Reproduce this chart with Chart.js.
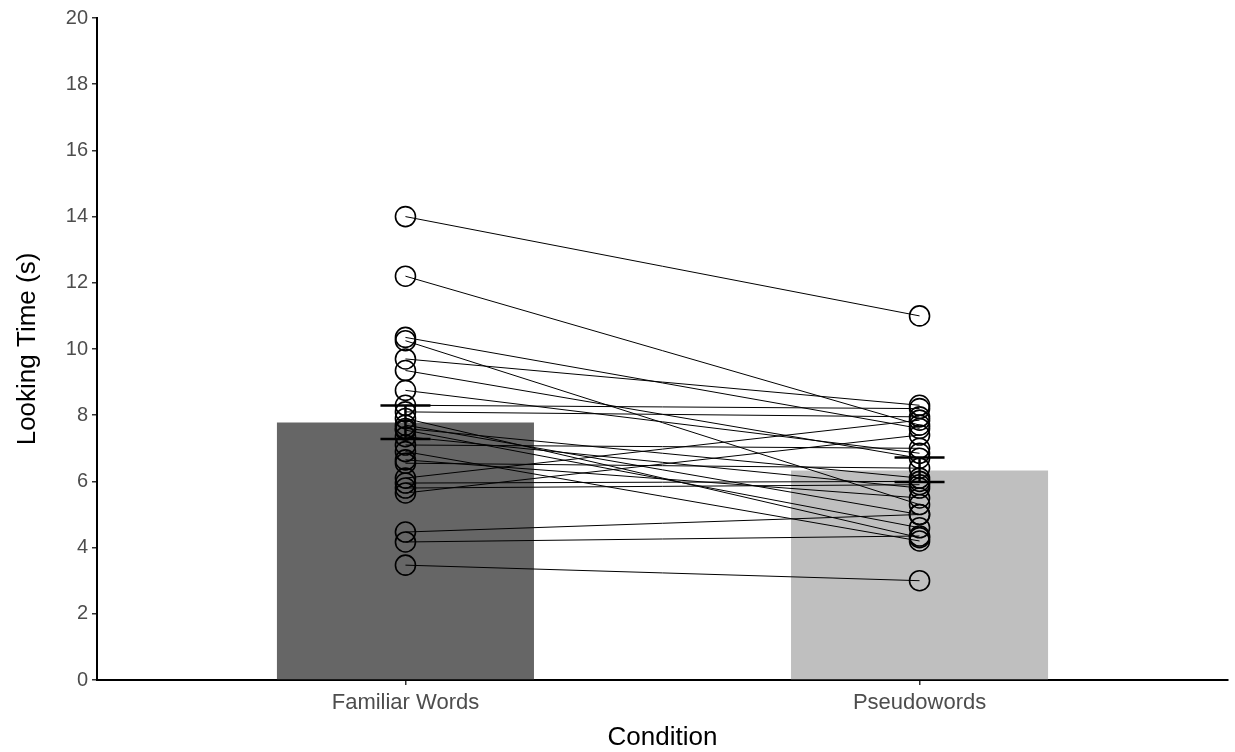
<!DOCTYPE html>
<html>
<head>
<meta charset="utf-8">
<script src="https://cdn.jsdelivr.net/npm/chart.js@4/dist/chart.umd.min.js"></script>
<style>
  html, body { margin: 0; padding: 0; background: #fff; overflow: hidden; }
  canvas { display: block; }
</style>
</head>
<body>
<canvas id="out" width="1235" height="752"></canvas>
<script>
const categories = ['Familiar Words', 'Pseudowords'];
const barMeans = [7.78, 6.33];
const errLow = [7.28, 5.98];
const errHigh = [8.29, 6.72];
const barColors = ['#666666', '#bfbfbf'];

// one entry per participant, same order in both lists
const familiar = [14.0, 12.2, 10.35, 10.25, 9.7, 9.35, 8.75, 8.3, 8.1, 7.9, 7.7, 7.6, 7.55,
  7.35, 7.1, 6.9, 6.65, 6.55, 6.1, 5.95, 5.8, 5.65, 4.47, 4.17, 3.47];
const pseudo = [11.0, 7.7, 7.6, 5.3, 8.3, 6.7, 6.85, 8.2, 7.95, 4.3, 5.0, 6.1, 4.6,
  5.8, 7.0, 4.2, 5.5, 6.4, 7.85, 6.0, 5.9, 7.4, 5.0, 4.35, 3.0];
const yTicks = [0, 2, 4, 6, 8, 10, 12, 14, 16, 18, 20];

const FONT = '"Liberation Sans", Arial, sans-serif';

const datasets = [{
  type: 'bar',
  data: barMeans.map((v, i) => ({ x: i + 1, y: v })),
  backgroundColor: barColors,
  categoryPercentage: 1,
  barPercentage: 0.5,
  order: 10
}];

familiar.forEach((f, i) => {
  datasets.push({
    type: 'line',
    data: [{ x: 1, y: f }, { x: 2, y: pseudo[i] }],
    borderColor: '#000',
    borderWidth: 1,
    pointRadius: 10,
    pointHoverRadius: 10,
    pointBorderWidth: 1.6,
    pointBorderColor: '#000',
    pointBackgroundColor: 'rgba(0,0,0,0)',
    clip: false,
    order: 1
  });
});

const errorBars = {
  id: 'errorBars',
  afterDatasetsDraw(chart) {
    const { ctx, scales: { x, y } } = chart;
    ctx.save();
    ctx.strokeStyle = '#000';
    ctx.lineWidth = 2.5;
    categories.forEach((c, i) => {
      const px = x.getPixelForValue(i + 1);
      const lo = y.getPixelForValue(errLow[i]);
      const hi = y.getPixelForValue(errHigh[i]);
      ctx.beginPath();
      ctx.moveTo(px, lo); ctx.lineTo(px, hi);
      ctx.moveTo(px - 25, lo); ctx.lineTo(px + 25, lo);
      ctx.moveTo(px - 25, hi); ctx.lineTo(px + 25, hi);
      ctx.stroke();
    });
    ctx.restore();
  }
};

const chartConfig = {
  type: 'bar',
  data: { datasets },
  options: {
    responsive: false,
    animation: false,
    events: [],
    layout: { autoPadding: false, padding: { top: 18, right: 7, left: 0, bottom: 0 } },
    plugins: { legend: { display: false }, tooltip: { enabled: false } },
    scales: {
      x: {
        type: 'linear',
        min: 0.4,
        max: 2.6,
        offset: false,
        afterBuildTicks: (axis) => { axis.ticks = categories.map((c, i) => ({ value: i + 1 })); },
        afterFit: (axis) => { axis.height = 72; axis.paddingLeft = 0; axis.paddingRight = 0; },
        ticks: {
          callback: (v) => categories[v - 1] || '',
          color: '#4d4d4d',
          font: { family: FONT, size: 22 },
          padding: 5,
          maxRotation: 0
        },
        grid: { offset: false, drawOnChartArea: false, drawTicks: true, tickLength: 5, color: '#333', lineWidth: 1.5 },
        border: { display: true, color: '#000', width: 2 },
        title: {
          display: true,
          text: 'Condition',
          color: '#000',
          font: { family: FONT, size: 26, lineHeight: 1.1 },
          padding: { top: 0, bottom: 0 }
        }
      },
      y: {
        min: 0,
        max: 20,
        afterBuildTicks: (axis) => { axis.ticks = yTicks.map(v => ({ value: v })); },
        afterFit: (axis) => { axis.width = 97; axis.paddingTop = 0; axis.paddingBottom = 0; },
        ticks: {
          color: '#4d4d4d',
          font: { family: FONT, size: 20 },
          padding: 4
        },
        grid: { drawOnChartArea: false, drawTicks: true, tickLength: 5, color: '#333', lineWidth: 1.5 },
        border: { display: true, color: '#000', width: 2 },
        title: {
          display: true,
          text: 'Looking Time (s)',
          color: '#000',
          font: { family: FONT, size: 26 },
          padding: { top: 12, bottom: 4 }
        }
      }
    }
  },
  plugins: [errorBars]
};

window.chart = new Chart(document.getElementById('out').getContext('2d'), chartConfig);
</script>
</body>
</html>
